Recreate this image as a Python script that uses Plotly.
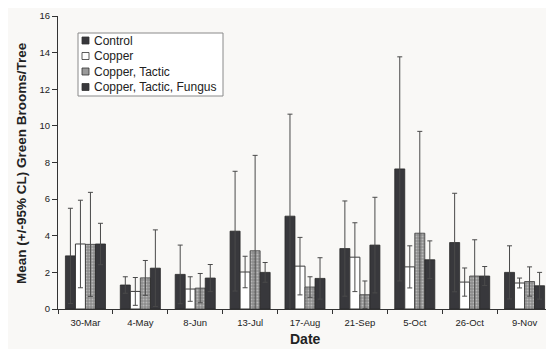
import plotly.graph_objects as go

dates = ["30-Mar", "4-May", "8-Jun", "13-Jul", "17-Aug", "21-Sep", "5-Oct", "26-Oct", "9-Nov"]

control = [2.9, 1.31, 1.89, 4.25, 5.07, 3.3, 7.65, 3.63, 2.0]
control_err = [2.6, 0.45, 1.6, 3.27, 5.57, 2.6, 6.12, 2.69, 1.45]

copper = [3.55, 0.96, 1.09, 2.02, 2.34, 2.83, 2.3, 1.47, 1.42]
copper_err = [2.39, 0.76, 0.67, 0.86, 1.57, 1.88, 1.15, 0.77, 0.27]

tactic = [3.53, 1.7, 1.14, 3.18, 1.2, 0.78, 4.14, 1.8, 1.5]
tactic_err = [2.84, 0.95, 0.8, 5.21, 0.56, 0.75, 5.56, 1.98, 0.8]

fungus = [3.55, 2.23, 1.69, 2.0, 1.67, 3.49, 2.69, 1.8, 1.27]
fungus_err = [1.13, 2.09, 0.74, 0.54, 1.13, 2.61, 1.03, 0.52, 0.73]

series_names = ["Control", "Copper", "Copper, Tactic", "Copper, Tactic, Fungus"]
y_ticks = [0, 2, 4, 6, 8, 10, 12, 14, 16]

FONT = "Liberation Sans, Arial, sans-serif"
DARK = "#38383c"
err_style = dict(type="data", thickness=1, width=2.5, color="#4a4a4a")
tactic_pattern = dict(shape=".", bgcolor="#8c8c8c", fgcolor="#e6e6e6", size=3, solidity=0.35)

fig = go.Figure()
fig.add_trace(go.Bar(
    name=series_names[0], x=dates, y=control,
    error_y=dict(array=control_err, **err_style),
    marker=dict(color=DARK, line=dict(color="#2a2a2a", width=0.8)),
))
fig.add_trace(go.Bar(
    name=series_names[1], x=dates, y=copper,
    error_y=dict(array=copper_err, **err_style),
    marker=dict(color="#ffffff", line=dict(color="#3a3a3a", width=1)),
))
fig.add_trace(go.Bar(
    name=series_names[2], x=dates, y=tactic,
    error_y=dict(array=tactic_err, **err_style),
    marker=dict(color="#8c8c8c", line=dict(color="#3a3a3a", width=0.8),
                pattern=tactic_pattern),
))
fig.add_trace(go.Bar(
    name=series_names[3], x=dates, y=fungus,
    error_y=dict(array=fungus_err, **err_style),
    marker=dict(color=DARK, line=dict(color="#2a2a2a", width=0.8)),
))

# The page body has an 8px margin, so the figure is offset by 8px in the window.
OFF = 8
FIG_W, FIG_H = 554 - OFF, 349 - OFF
# plot area in window pixels
L, T, W, H = 58, 16, 494, 293


def px(xp):
    return (xp - L) / W


def py(yp):
    return (T + H - yp) / H


shapes = [dict(type="rect", xref="paper", yref="paper",
               x0=px(78), x1=px(223), y0=py(96), y1=py(33),
               line=dict(color="#8a8a8a", width=1), fillcolor="#ffffff", layer="above")]
swatch_fill = [DARK, "#ffffff", "#9a9a9a", DARK]
annotations = []
for i, name in enumerate(series_names):
    cy = 40.5 + i * 15.5
    shapes.append(dict(type="rect", xref="paper", yref="paper",
                       x0=px(82), x1=px(89), y0=py(cy + 3.5), y1=py(cy - 3.5),
                       line=dict(color="#333333", width=0.8), fillcolor=swatch_fill[i],
                       layer="above"))
    annotations.append(dict(text=name, xref="paper", yref="paper",
                            x=px(92), y=py(cy), xanchor="left", yanchor="middle",
                            showarrow=False, font=dict(family=FONT, size=12, color="#222222")))

annotations.append(dict(text="<b>Mean (+/-95% CL) Green Brooms/Tree</b>", textangle=-90,
                        xref="paper", yref="paper", x=px(21), y=py(163),
                        xanchor="center", yanchor="middle", showarrow=False,
                        font=dict(family=FONT, size=13.5, color="#222222")))
annotations.append(dict(text="<b>Date</b>", xref="paper", yref="paper",
                        x=px(305), y=py(339), xanchor="center", yanchor="middle",
                        showarrow=False, font=dict(family=FONT, size=14, color="#222222")))

fig.update_layout(
    width=FIG_W, height=FIG_H,
    margin=dict(l=L - OFF, r=FIG_W - (L - OFF) - W, t=T - OFF, b=FIG_H - (T - OFF) - H, pad=0),
    paper_bgcolor="#f9f8f6",
    plot_bgcolor="#f9f8f6",
    barmode="group",
    bargap=0.27,
    bargroupgap=0,
    font=dict(family=FONT, size=10, color="#222222"),
    showlegend=False,
    shapes=shapes,
    annotations=annotations,
    xaxis=dict(
        automargin=False,
        showline=True, linecolor="#333333", linewidth=1,
        ticks="outside", tickson="boundaries", ticklen=4, tickcolor="#333333",
        ticklabelstandoff=5,
        showgrid=False, zeroline=False,
        tickfont=dict(family=FONT, size=9.5),
    ),
    yaxis=dict(
        automargin=False,
        range=[0, 16], tickvals=y_ticks,
        showline=True, linecolor="#333333", linewidth=1,
        ticks="outside", ticklen=5, tickcolor="#333333",
        showgrid=False, zeroline=False,
        tickfont=dict(family=FONT, size=9.5),
    ),
)

fig.write_html("out.html")
